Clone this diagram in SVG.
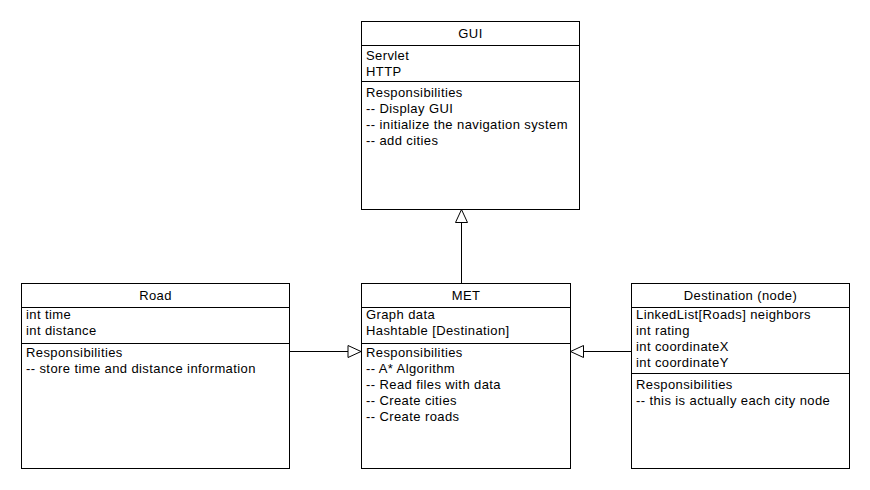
<svg xmlns="http://www.w3.org/2000/svg" width="870" height="490" viewBox="0 0 870 490">
<style>
.box{fill:#fff;stroke:#000;stroke-width:1}
.sep{stroke:#000;stroke-width:1}
text{font-family:"Liberation Sans",Arial,sans-serif;font-size:13px;letter-spacing:0.4px;fill:#000}
.t{text-anchor:middle}
.edge{stroke:#000;stroke-width:1;fill:none}
</style>
<defs>
<marker id="tri" markerUnits="userSpaceOnUse" markerWidth="16" markerHeight="14" viewBox="0 0 16 14" refX="14" refY="7" orient="auto">
<path d="M1,1 L14,7 L1,13 Z" fill="#fff" stroke="#000" stroke-width="1"/>
</marker>
</defs>
<rect width="870" height="490" fill="#fff"/>
<g id="connectors">
<path class="edge" d="M461.5,283 L461.5,209.5" marker-end="url(#tri)"/>
<path class="edge" d="M290,351.5 L361,351.5" marker-end="url(#tri)"/>
<path class="edge" d="M631,351.5 L570.5,351.5" marker-end="url(#tri)"/>
</g>
<g id="gui">
<rect class="box" x="361.5" y="21.5" width="218" height="188"/>
<line class="sep" x1="361.5" y1="45.5" x2="579.5" y2="45.5"/>
<line class="sep" x1="361.5" y1="81.5" x2="579.5" y2="81.5"/>
<text class="t" x="470.5" y="38">GUI</text>
<text x="366" y="60">Servlet</text>
<text x="366" y="76">HTTP</text>
<text x="366" y="97">Responsibilities</text>
<text x="366" y="113">-- Display GUI</text>
<text x="366" y="129">-- initialize the navigation system</text>
<text x="366" y="145">-- add cities</text>
</g>
<g id="road">
<rect class="box" x="21.5" y="283.5" width="268" height="185"/>
<line class="sep" x1="21.5" y1="307.5" x2="289.5" y2="307.5"/>
<line class="sep" x1="21.5" y1="343.5" x2="289.5" y2="343.5"/>
<text class="t" x="155.5" y="300">Road</text>
<text x="26" y="319">int time</text>
<text x="26" y="335">int distance</text>
<text x="26" y="357">Responsibilities</text>
<text x="26" y="373">-- store time and distance information</text>
</g>
<g id="met">
<rect class="box" x="361.5" y="283.5" width="209" height="185"/>
<line class="sep" x1="361.5" y1="307.5" x2="570.5" y2="307.5"/>
<line class="sep" x1="361.5" y1="343.5" x2="570.5" y2="343.5"/>
<text class="t" x="466" y="300">MET</text>
<text x="366" y="319">Graph data</text>
<text x="366" y="335">Hashtable [Destination]</text>
<text x="366" y="357">Responsibilities</text>
<text x="366" y="373">-- A* Algorithm</text>
<text x="366" y="389">-- Read files with data</text>
<text x="366" y="405">-- Create cities</text>
<text x="366" y="421">-- Create roads</text>
</g>
<g id="destination">
<rect class="box" x="631.5" y="283.5" width="218" height="185"/>
<line class="sep" x1="631.5" y1="307.5" x2="849.5" y2="307.5"/>
<line class="sep" x1="631.5" y1="373.5" x2="849.5" y2="373.5"/>
<text class="t" x="740.5" y="300">Destination (node)</text>
<text x="636" y="319">LinkedList[Roads] neighbors</text>
<text x="636" y="335">int rating</text>
<text x="636" y="351">int coordinateX</text>
<text x="636" y="367">int coordinateY</text>
<text x="636" y="389">Responsibilities</text>
<text x="636" y="405">-- this is actually each city node</text>
</g>
</svg>
